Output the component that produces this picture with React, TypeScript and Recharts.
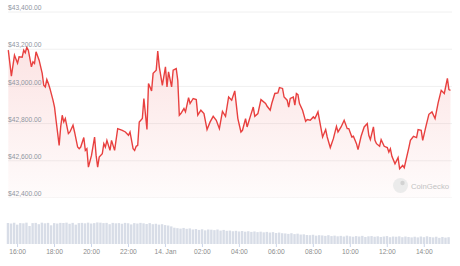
import React from 'react';
import { AreaChart, Area, BarChart, Bar, XAxis, YAxis, CartesianGrid } from 'recharts';

// minutes from 16:00 on 13 Jan
const priceMinutes = [
  -30, -20, -10, 0, 5, 15, 20, 25, 30, 35,
  45, 50, 55, 60, 70, 80, 85, 90, 95, 100,
  105, 115, 120, 125, 135, 140, 145, 150, 155, 165,
  170, 180, 185, 195, 200, 205, 215, 220, 225, 230,
  240, 250, 255, 260, 265, 275, 280, 285, 290, 300,
  305, 315, 325, 340, 350, 360, 365, 375, 380, 385,
  390, 395, 405, 410, 420, 425, 435, 440, 450, 455,
  460, 470, 480, 485, 490, 500, 505, 515, 520, 525,
  530, 540, 545, 555, 560, 570, 580, 585, 595, 605,
  615, 625, 635, 645, 655, 665, 675, 685, 695, 705,
  715, 725, 730, 740, 745, 755, 765, 770, 780, 790,
  805, 810, 820, 825, 835, 845, 850, 860, 865, 875,
  880, 885, 895, 900, 905, 910, 915, 925, 935, 940,
  950, 960, 965, 975, 985, 990, 1000, 1005, 1015, 1025,
  1035, 1040, 1050, 1060, 1070, 1075, 1085, 1090, 1100, 1105,
  1115, 1125, 1135, 1140, 1145, 1155, 1160, 1165, 1175, 1180,
  1190, 1200, 1205, 1210, 1215, 1225, 1235, 1240, 1250, 1255,
  1270, 1275, 1285, 1295, 1300, 1310, 1315, 1325, 1335, 1345,
  1355, 1365, 1375, 1385, 1395, 1400, 1405,
];

const prices = [
  43195, 43055, 43168, 43125, 43159, 43157, 43195, 43181, 43210, 43195,
  43105, 43132, 43123, 43186, 43141, 43070, 43006, 42997, 43037, 43016,
  42989, 42926, 42889, 42818, 42683, 42782, 42845, 42809, 42827, 42746,
  42755, 42791, 42755, 42674, 42665, 42674, 42725, 42656, 42665, 42566,
  42629, 42728, 42629, 42566, 42620, 42638, 42692, 42674, 42710, 42656,
  42710, 42656, 42773, 42764, 42755, 42737, 42755, 42665, 42656, 42678,
  42683, 42809, 42827, 42935, 42768, 43016, 42976, 43070, 43087, 43190,
  43105, 43006, 43105, 42997, 43078, 42997, 43087, 43096, 43033, 42845,
  42854, 42881, 42863, 42940, 42908, 42935, 42929, 42845, 42872, 42854,
  42768, 42809, 42839, 42818, 42773, 42866, 42839, 42943, 42926, 42976,
  42827, 42755, 42764, 42827, 42782, 42836, 42889, 42839, 42854, 42929,
  42908, 42893, 42872, 42908, 42962, 42965, 42994, 42989, 42943, 42926,
  42889, 42935, 42943, 42899, 42962, 42956, 42908, 42872, 42812, 42822,
  42818, 42836, 42827, 42863, 42773, 42728, 42768, 42728, 42671, 42719,
  42785, 42755, 42782, 42818, 42773, 42773, 42728, 42732, 42692, 42660,
  42732, 42782, 42800, 42737, 42714, 42782, 42710, 42692, 42678, 42714,
  42678, 42671, 42647, 42665, 42624, 42584, 42617, 42557, 42575, 42563,
  42671, 42710, 42732, 42725, 42768, 42764, 42710, 42782, 42850, 42863,
  42827, 42911, 42979, 42962, 43043, 42983, 42979,
];

// 10 minute volume buckets starting 15:30
const volumeStart = -30;
const volumeStep = 10;
const volumes = [
  96, 93, 97, 88, 95, 94,
  97, 82, 95, 96, 90, 97,
  94, 96, 85, 95, 93, 96,
  95, 97, 92, 96, 88, 95,
  96, 94, 97, 93, 95, 98,
  97, 95, 96, 90, 96, 94,
  95, 92, 96, 94, 89, 95,
  93, 96, 94, 91, 95, 90,
  92, 88, 90, 86, 84, 80,
  74, 72, 70, 73, 69, 71,
  66, 68, 64, 67, 62, 66,
  65, 63, 66, 61, 64, 60,
  61, 58, 60, 57, 59, 56,
  58, 55, 57, 54, 56, 53,
  55, 52, 54, 50, 52, 49,
  48, 46, 49, 45, 47, 43,
  44, 41, 40, 42, 38, 40,
  39, 37, 40, 36, 38, 35,
  37, 34, 38, 35, 33, 36,
  34, 37, 32, 35, 36, 33,
  35, 32, 34, 36, 31, 34,
  33, 35, 31, 34, 32, 30,
  33, 30, 34, 31, 35, 32,
  30, 33, 28, 32, 29, 31,
];

const priceTicks = [42400, 42600, 42800, 43000, 43200, 43400];
const timeTicks = [0, 120, 240, 360, 480, 600, 720, 840, 960, 1080, 1200, 1320];
const timeLabels = ['16:00', '18:00', '20:00', '22:00', '14. Jan', '02:00', '04:00', '06:00', '08:00', '10:00', '12:00', '14:00'];

const priceData = prices.map((price, i) => ({ t: priceMinutes[i], price }));
const volumeData = volumes.map((volume, i) => ({ t: volumeStart + i * volumeStep, volume }));

const timeDomain = [-31, 1410];
const font = '"Liberation Sans", Arial, sans-serif';

function PriceTick({ y, payload }: any) {
  const label = '$' + Number(payload.value).toLocaleString('en-US', { minimumFractionDigits: 2, maximumFractionDigits: 2 });
  return (
    <text x={8} y={y - 1.8} fill="#8f959f" fontSize={6.7} fontFamily={font} textAnchor="start">
      {label}
    </text>
  );
}

export default function App() {
  return (
    <div style={{ position: 'relative', width: 460, height: 266, background: '#fff' }}>
      <style>{'body{margin:0;background:#fff}'}</style>
      <div style={{ position: 'absolute', left: 0, top: 0 }}>
        <AreaChart width={460} height={198} data={priceData} margin={{ top: 12, right: 8, bottom: 0, left: 8 }}>
          <defs>
            <linearGradient id="priceFill" x1="0" y1="0" x2="0" y2="1">
              <stop offset="0%" stopColor="#e8403f" stopOpacity={0.24} />
              <stop offset="100%" stopColor="#e8403f" stopOpacity={0.03} />
            </linearGradient>
          </defs>
          <CartesianGrid vertical={false} stroke="#f0f0f0" />
          <XAxis dataKey="t" type="number" domain={timeDomain} hide />
          <YAxis
            type="number"
            domain={[42400, 43400]}
            ticks={priceTicks}
            interval={0}
            mirror
            axisLine={false}
            tickLine={false}
            tick={PriceTick}
          />
          <Area
            type="linear"
            dataKey="price"
            stroke="#e8403f"
            strokeWidth={1.4}
            fill="url(#priceFill)"
            dot={false}
            activeDot={false}
            isAnimationActive={false}
          />
        </AreaChart>
      </div>
      <div style={{ position: 'absolute', left: 0, top: 198 }}>
        <BarChart width={460} height={68} data={volumeData} margin={{ top: 24, right: 8, bottom: 0, left: 8 }}>
          <XAxis
            dataKey="t"
            type="number"
            domain={timeDomain}
            ticks={timeTicks}
            interval={0}
            height={22}
            tickSize={3}
            tickMargin={2.5}
            axisLine={false}
            tickLine={{ stroke: '#ccd6eb' }}
            tick={{ fill: '#8c8c8c', fontSize: 6.7, fontFamily: font }}
            tickFormatter={(v: number) => timeLabels[timeTicks.indexOf(v)] ?? ''}
          />
          <YAxis hide domain={[0, 100]} />
          <Bar dataKey="volume" fill="#d8dde7" barSize={2.4} isAnimationActive={false} />
        </BarChart>
      </div>
      <svg width={460} height={266} style={{ position: 'absolute', left: 0, top: 0, pointerEvents: 'none' }}>
        <circle cx={400.5} cy={185.5} r={7.5} fill="#ebebeb" />
        <circle cx={402.5} cy={183} r={2.2} fill="#d2d2d2" />
        <text x={411} y={188.5} fontSize={7.7} fill="#c2c2c2" fontFamily={font}>
          CoinGecko
        </text>
      </svg>
    </div>
  );
}
